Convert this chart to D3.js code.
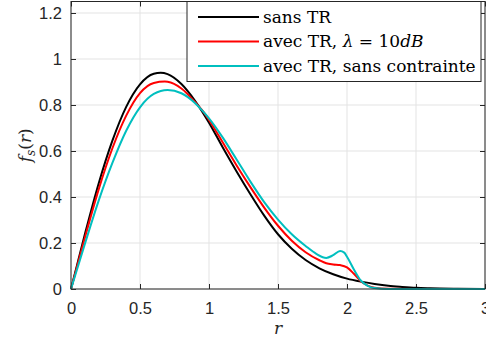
<!DOCTYPE html>
<html>
<head>
<meta charset="utf-8">
<script src="https://cdn.jsdelivr.net/npm/d3@7"></script>
<style>
  body { margin: 0; background: #fff; }
  svg { display: block; }
</style>
</head>
<body>
<script>
// courbes (r, f_s(r))
var rNoir  = [0, 0.1, 0.2, 0.3, 0.4, 0.5, 0.6, 0.65, 0.7, 0.8, 0.9, 1.0, 1.1, 1.2, 1.3, 1.4, 1.5, 1.6, 1.7, 1.8, 1.9, 2.0, 2.1, 2.2, 2.3, 2.4, 2.5, 2.6, 2.8, 3.0];
var fNoir  = [0, 0.237, 0.458, 0.645, 0.792, 0.890, 0.936, 0.940, 0.934, 0.891, 0.817, 0.723, 0.615, 0.511, 0.412, 0.319, 0.238, 0.175, 0.126, 0.090, 0.064, 0.045, 0.032, 0.022, 0.014, 0.009, 0.005, 0.003, 0.001, 0];

var rRouge = [0, 0.1, 0.2, 0.3, 0.4, 0.5, 0.6, 0.68, 0.7, 0.8, 0.9, 0.96, 1.0, 1.1, 1.2, 1.3, 1.4, 1.5, 1.6, 1.7, 1.8, 1.85, 1.9, 1.95, 2.0, 2.05, 2.1, 2.15, 2.2, 2.3, 2.5, 3.0];
var fRouge = [0, 0.222, 0.432, 0.612, 0.754, 0.852, 0.896, 0.902, 0.901, 0.872, 0.812, 0.770, 0.735, 0.637, 0.537, 0.443, 0.354, 0.275, 0.210, 0.160, 0.125, 0.112, 0.107, 0.104, 0.094, 0.066, 0.034, 0.015, 0.006, 0.001, 0, 0];

var rCyan  = [0, 0.1, 0.2, 0.3, 0.4, 0.5, 0.6, 0.7, 0.8, 0.9, 0.96, 1.0, 1.1, 1.2, 1.3, 1.4, 1.5, 1.6, 1.7, 1.78, 1.85, 1.9, 1.95, 1.98, 2.0, 2.05, 2.1, 2.15, 2.2, 2.3, 3.0];
var fCyan  = [0, 0.195, 0.383, 0.548, 0.688, 0.790, 0.848, 0.865, 0.851, 0.808, 0.770, 0.742, 0.658, 0.563, 0.467, 0.378, 0.302, 0.238, 0.187, 0.152, 0.135, 0.147, 0.165, 0.158, 0.140, 0.085, 0.037, 0.014, 0.004, 0, 0];

var xTicks = [0, 0.5, 1, 1.5, 2, 2.5, 3];
var yTicks = [0, 0.2, 0.4, 0.6, 0.8, 1, 1.2];

var W = 486, H = 345,
    xG = 71, xD = 485, yH = 1.5, yB = 289;

var gris = "#262626";

var svg = d3.select("body").append("svg")
    .attr("width", W)
    .attr("height", H);

var x = d3.scaleLinear().domain([0, 3]).range([xG, xD]);
var y = d3.scaleLinear().domain([0, 1.25]).range([yB, yH]);

// grille
svg.append("g").selectAll("line").data(xTicks).enter().append("line")
    .attr("x1", function(d) { return x(d); })
    .attr("x2", function(d) { return x(d); })
    .attr("y1", yH).attr("y2", yB)
    .attr("stroke", "#e3e3e3").attr("stroke-width", 1);
svg.append("g").selectAll("line").data(yTicks).enter().append("line")
    .attr("x1", xG).attr("x2", xD)
    .attr("y1", function(d) { return y(d); })
    .attr("y2", function(d) { return y(d); })
    .attr("stroke", "#e3e3e3").attr("stroke-width", 1);

// axes (ticks vers l'interieur)
var axeX = svg.append("g")
    .attr("transform", "translate(0," + yB + ")")
    .call(d3.axisBottom(x).tickValues(xTicks).tickFormat(d3.format("~g"))
        .tickSizeInner(-5).tickSizeOuter(0).tickPadding(13));
var axeY = svg.append("g")
    .attr("transform", "translate(" + xG + ",0)")
    .call(d3.axisLeft(y).tickValues(yTicks).tickFormat(d3.format("~g"))
        .tickSizeInner(-5).tickSizeOuter(0).tickPadding(9));
var axeX2 = svg.append("g")
    .attr("transform", "translate(0," + yH + ")")
    .call(d3.axisTop(x).tickValues(xTicks).tickFormat("")
        .tickSizeInner(-5).tickSizeOuter(0));
var axeY2 = svg.append("g")
    .attr("transform", "translate(" + xD + ",0)")
    .call(d3.axisRight(y).tickValues(yTicks).tickFormat("")
        .tickSizeInner(-5).tickSizeOuter(0));

[axeX, axeY, axeX2, axeY2].forEach(function(a) {
    a.select(".domain").remove();
    a.selectAll("line").attr("stroke", gris);
    a.selectAll("text")
        .attr("fill", gris)
        .attr("font-family", "Liberation Sans, Arial, sans-serif")
        .attr("font-size", 16.5);
});

// courbes
var ligne = d3.line()
    .x(function(d) { return x(d[0]); })
    .y(function(d) { return y(d[1]); })
    .curve(d3.curveMonotoneX);

function courbe(rs, fs, couleur) {
    var pts = rs.map(function(r, i) { return [r, fs[i]]; });
    svg.append("path")
        .datum(pts)
        .attr("d", ligne)
        .attr("fill", "none")
        .attr("stroke", couleur)
        .attr("stroke-width", 2)
        .attr("stroke-linejoin", "round");
}
courbe(rNoir, fNoir, "#000000");
courbe(rRouge, fRouge, "#ff0000");
courbe(rCyan, fCyan, "#00bfbf");

// cadre
svg.append("rect")
    .attr("x", xG).attr("y", yH)
    .attr("width", xD - xG).attr("height", yB - yH)
    .attr("fill", "none").attr("stroke", gris).attr("stroke-width", 1);

// labels
var serif = "DejaVu Serif, Liberation Serif, serif";
svg.append("text")
    .attr("x", (xG + xD) / 2).attr("y", 334)
    .attr("text-anchor", "middle")
    .attr("font-family", serif).attr("font-style", "italic")
    .attr("font-size", 17).attr("fill", gris)
    .text("r");

var yl = svg.append("text")
    .attr("transform", "translate(31," + ((yH + yB) / 2) + ") rotate(-90)")
    .attr("text-anchor", "middle")
    .attr("font-family", serif)
    .attr("font-size", 17).attr("fill", gris);
yl.append("tspan").attr("font-style", "italic").text("f");
yl.append("tspan").attr("font-style", "italic").attr("font-size", 12).attr("dy", 4).text("s");
yl.append("tspan").attr("dy", -4).text("(");
yl.append("tspan").attr("font-style", "italic").text("r");
yl.append("tspan").text(")");

// legende
var leg = svg.append("g");
leg.append("rect")
    .attr("x", 187).attr("y", yH)
    .attr("width", 294).attr("height", 80)
    .attr("fill", "#fff").attr("stroke", gris).attr("stroke-width", 1);

var legCouleurs = ["#000000", "#ff0000", "#00bfbf"];
var legY = [17, 41.5, 66];
legCouleurs.forEach(function(c, i) {
    leg.append("line")
        .attr("x1", 198).attr("x2", 259)
        .attr("y1", legY[i]).attr("y2", legY[i])
        .attr("stroke", c).attr("stroke-width", 2);
});

function texteLeg(i) {
    return leg.append("text")
        .attr("x", 263).attr("y", legY[i] + 5.5)
        .attr("font-family", serif)
        .attr("font-size", 17).attr("fill", "#000");
}
texteLeg(0).text("sans TR");
var t2 = texteLeg(1);
t2.append("tspan").text("avec TR, ");
t2.append("tspan").attr("font-style", "italic").text("λ");
t2.append("tspan").text(" = 10");
t2.append("tspan").attr("font-style", "italic").text("dB");
texteLeg(2).text("avec TR, sans contrainte");
</script>
</body>
</html>
